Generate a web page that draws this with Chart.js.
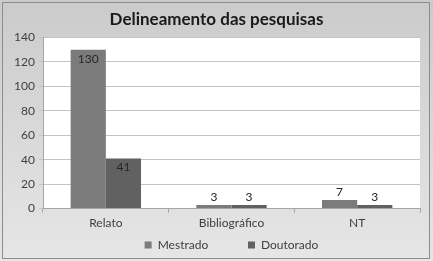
<!DOCTYPE html>
<html>
<head>
<meta charset="utf-8">
<script src="https://cdn.jsdelivr.net/npm/chart.js@4"></script>
<style>
  html, body { margin: 0; padding: 0; background: #fff; }
  #wrap { width: 433px; height: 261px; }
</style>
</head>
<body>
<div id="wrap"><canvas id="chart" width="433" height="261"></canvas></div>
<script>
const categories = ['Relato', 'Bibliográfico', 'NT'];
const mestrado = [130, 3, 7];
const doutorado = [41, 3, 3];
const yTicks = [0, 20, 40, 60, 80, 100, 120, 140];

const FONT = 'Lato, "Open Sans", sans-serif';

// fundo cinza em degradê + área de plotagem branca
const backdrop = {
    id: 'backdrop',
    beforeDraw(chart) {
        const { ctx, width, height, chartArea } = chart;
        ctx.save();
        const g = ctx.createLinearGradient(0, 0, 0, height);
        g.addColorStop(0, '#cbcbcb');
        g.addColorStop(1, '#e6e6e6');
        ctx.fillStyle = g;
        ctx.fillRect(0, 0, width, height);
        ctx.strokeStyle = '#8c8c8c';
        ctx.lineWidth = 1;
        ctx.strokeRect(2.5, 2.5, width - 6, height - 5);
        ctx.fillStyle = '#ffffff';
        ctx.fillRect(chartArea.left, chartArea.top, chartArea.right - chartArea.left, chartArea.bottom - chartArea.top);
        ctx.restore();
    }
};

// rótulos de valor: dentro do topo nas barras altas, acima nas baixas
const valueLabels = {
    id: 'valueLabels',
    afterDatasetsDraw(chart) {
        const { ctx } = chart;
        ctx.save();
        ctx.font = '12px ' + FONT;
        ctx.fillStyle = '#262626';
        ctx.textAlign = 'center';
        ctx.textBaseline = 'middle';
        chart.data.datasets.forEach((ds, i) => {
            chart.getDatasetMeta(i).data.forEach((bar, j) => {
                const h = bar.base - bar.y;
                const y = h > 20 ? bar.y + 9 : bar.y - 8;
                ctx.fillText(ds.data[j], bar.x, y);
            });
        });
        ctx.restore();
    }
};

new Chart(document.getElementById('chart').getContext('2d'), {
    type: 'bar',
    data: {
        labels: categories,
        datasets: [
            { label: 'Mestrado', data: mestrado, backgroundColor: '#7b7b7b' },
            { label: 'Doutorado', data: doutorado, backgroundColor: '#616161' }
        ]
    },
    options: {
        responsive: false,
        animation: false,
        devicePixelRatio: 1,
        layout: { padding: { left: 13, right: 13, top: 0, bottom: 0 } },
        datasets: { bar: { categoryPercentage: 0.56, barPercentage: 1.0 } },
        scales: {
            x: {
                grid: { display: true, drawOnChartArea: false, color: '#a6a6a6', tickLength: 4 },
                border: { color: '#a6a6a6' },
                ticks: { color: '#404040', font: { family: FONT, size: 12 }, padding: 3 }
            },
            y: {
                min: 0,
                max: 140,
                afterFit(scale) { scale.width = 30; },
                afterBuildTicks(scale) { scale.ticks = yTicks.map(v => ({ value: v })); },
                grid: { color: '#c4c4c4', tickLength: 4 },
                border: { color: '#a6a6a6' },
                ticks: { color: '#404040', font: { family: FONT, size: 12 }, padding: 4 }
            }
        },
        plugins: {
            title: {
                display: true,
                text: 'Delineamento das pesquisas',
                color: '#1a1a1a',
                font: { family: FONT, size: 17, weight: 'bold' },
                padding: { top: 9, bottom: 8 }
            },
            legend: {
                position: 'bottom',
                fullSize: false,
                labels: {
                    color: '#404040',
                    font: { family: FONT, size: 12 },
                    boxWidth: 7,
                    boxHeight: 7,
                    padding: 6,
                    generateLabels(chart) {
                        const items = Chart.defaults.plugins.legend.labels.generateLabels(chart);
                        items.forEach((it, i) => {
                            if (i < items.length - 1) it.text += '           ';
                        });
                        return items;
                    }
                }
            },
            tooltip: { enabled: false }
        }
    },
    plugins: [backdrop, valueLabels]
});
</script>
</body>
</html>
